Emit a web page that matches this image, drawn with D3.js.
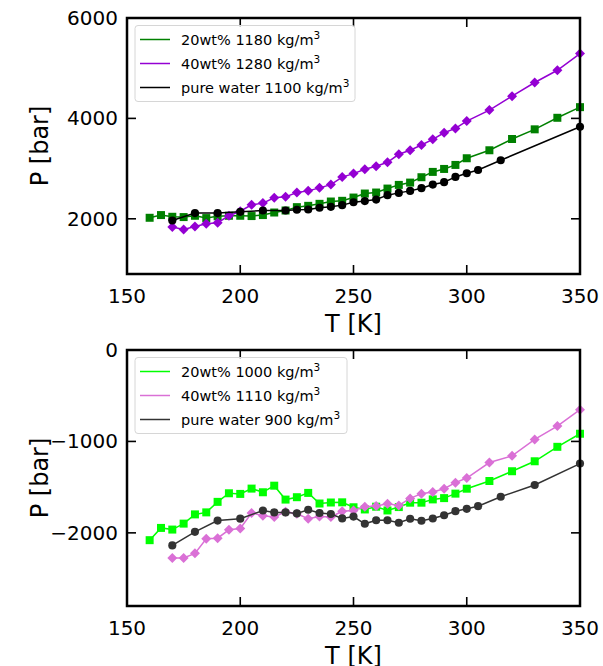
<!DOCTYPE html>
<html lang="en">
<head>
  <meta charset="utf-8">
  <title>P vs T</title>
  <script src="https://d3js.org/d3.v7.min.js"></script>
  <style>
    body { margin: 0; background: #fff; }
    svg { font-family: "DejaVu Sans", sans-serif; }
  </style>
</head>
<body>

<svg width="603" height="666"></svg>

<script>
  // ---- data ----
  const xTicks = [150, 200, 250, 300, 350];

  // top panel
  const topYTicks = [2000, 4000, 6000];
  const T20top = [160,165,170,175,180,185,190,195,200,205,210,215,220,225,230,235,240,245,250,255,260,265,270,275,280,285,290,295,300,310,320,330,340,350];
  const P20top = [2020,2074,2040,2034,2060,2014,2050,2060,2060,2054,2074,2125,2165,2232,2258,2298,2344,2358,2423,2503,2523,2602,2675,2721,2828,2934,2993,3073,3206,3365,3589,3782,4012,4224];
  const T40top = [170,175,180,185,190,195,200,205,210,215,220,225,230,235,240,245,250,255,260,265,270,275,280,285,290,295,300,310,320,330,340,350];
  const P40top = [1835,1788,1847,1901,1921,2060,2150,2278,2312,2417,2437,2523,2556,2616,2681,2830,2900,2987,3047,3126,3285,3365,3470,3583,3714,3801,3946,4165,4443,4715,4959,5291];
  const TWtop = [170,180,190,200,210,220,225,230,235,240,245,250,255,260,265,270,275,280,285,290,295,300,305,315,350];
  const PWtop = [1966,2113,2113,2139,2165,2165,2179,2185,2219,2238,2272,2330,2352,2383,2471,2516,2556,2610,2681,2729,2834,2908,2973,3166,3833];

  // bottom panel
  const botYTicks = [-2000, -1000, 0];
  const T20bot = [160,165,170,175,180,185,190,195,200,205,210,215,220,225,230,235,240,245,250,255,260,265,270,275,280,285,290,295,300,310,320,330,340,350];
  const P20bot = [-2080,-1946,-1964,-1899,-1798,-1776,-1661,-1567,-1574,-1516,-1556,-1484,-1636,-1610,-1563,-1679,-1668,-1666,-1720,-1744,-1714,-1755,-1718,-1670,-1670,-1634,-1620,-1571,-1517,-1433,-1326,-1217,-1059,-916];
  const T40bot = [170,175,180,185,190,195,200,205,210,215,220,225,230,235,240,245,250,255,260,265,270,275,280,285,290,295,300,310,320,330,340,350];
  const P40bot = [-2275,-2275,-2224,-2065,-2058,-1967,-1953,-1783,-1812,-1827,-1769,-1791,-1845,-1820,-1827,-1764,-1755,-1714,-1707,-1681,-1700,-1623,-1571,-1554,-1517,-1451,-1400,-1231,-1158,-978,-832,-653];
  const TWbot = [170,180,190,200,210,215,220,225,230,235,240,245,250,255,260,265,270,275,280,285,290,295,300,305,315,330,350];
  const PWbot = [-2137,-1989,-1866,-1845,-1755,-1776,-1776,-1787,-1747,-1783,-1794,-1842,-1822,-1901,-1862,-1862,-1890,-1846,-1868,-1843,-1807,-1763,-1737,-1708,-1605,-1477,-1242];

  const svg = d3.select("svg");
  const left = 127, right = 580;
  const fmt = d => d < 0 ? "\u2212" + Math.abs(d) : String(d);

  function zip(T, P) { return T.map((t, i) => [t, P[i]]); }

  function panel(top, bottom, yDomain, yTicks, series) {
    const x = d3.scaleLinear().domain([150, 350]).range([left, right]);
    const y = d3.scaleLinear().domain(yDomain).range([bottom, top]);
    const g = svg.append("g");

    // series
    const line = d3.line().x(d => x(d[0])).y(d => y(d[1]));
    series.forEach(s => {
      const data = zip(s.T, s.P);
      g.append("path").datum(data)
        .attr("d", line).attr("fill", "none")
        .attr("stroke", s.color).attr("stroke-width", 1.5);
      const sym = d3.symbol().type(s.marker === "circle" ? d3.symbolCircle : d3.symbolSquare)
        .size(s.marker === "circle" ? 52 : s.marker === "square" ? 64 : 50);
      g.selectAll(null).data(data).enter().append("path")
        .attr("d", sym)
        .attr("transform", d => `translate(${x(d[0])},${y(d[1])})` + (s.marker === "diamond" ? " rotate(45)" : ""))
        .attr("fill", s.color);
    });

    // ticks (inward, all four sides)
    const tk = 9;
    xTicks.forEach(t => {
      g.append("line").attr("x1", x(t)).attr("x2", x(t)).attr("y1", bottom).attr("y2", bottom - tk)
        .attr("stroke", "#000").attr("stroke-width", 1.6);
      g.append("line").attr("x1", x(t)).attr("x2", x(t)).attr("y1", top).attr("y2", top + tk)
        .attr("stroke", "#000").attr("stroke-width", 1.6);
      g.append("text").attr("x", x(t)).attr("y", bottom + 29)
        .attr("text-anchor", "middle").attr("font-size", 20).text(t);
    });
    yTicks.forEach(t => {
      g.append("line").attr("x1", left).attr("x2", left + tk).attr("y1", y(t)).attr("y2", y(t))
        .attr("stroke", "#000").attr("stroke-width", 1.6);
      g.append("line").attr("x1", right).attr("x2", right - tk).attr("y1", y(t)).attr("y2", y(t))
        .attr("stroke", "#000").attr("stroke-width", 1.6);
      g.append("text").attr("x", left - 9).attr("y", y(t) + 7)
        .attr("text-anchor", "end").attr("font-size", 20).text(fmt(t));
    });

    // frame
    g.append("rect").attr("x", left).attr("y", top)
      .attr("width", right - left).attr("height", bottom - top)
      .attr("fill", "none").attr("stroke", "#000").attr("stroke-width", 2.5);

    // axis labels
    g.append("text").attr("x", (left + right) / 2).attr("y", bottom + 58)
      .attr("text-anchor", "middle").attr("font-size", 24).text("T [K]");
    g.append("text").attr("transform", `translate(48,${(top + bottom) / 2}) rotate(-90)`)
      .attr("text-anchor", "middle").attr("font-size", 24).text("P [bar]");

    // legend
    const lx = 135, ly = top + 7.5, lw = series.legendW, lh = 76;
    g.append("rect").attr("x", lx).attr("y", ly).attr("width", lw).attr("height", lh)
      .attr("rx", 3).attr("fill", "#fff").attr("fill-opacity", 0.8)
      .attr("stroke", "#d6d6d6").attr("stroke-width", 1);
    series.forEach((s, i) => {
      const cy = ly + 14 + i * 24;
      g.append("line").attr("x1", lx + 5).attr("x2", lx + 35).attr("y1", cy).attr("y2", cy)
        .attr("stroke", s.color).attr("stroke-width", 1.5);
      const txt = g.append("text").attr("x", lx + 46).attr("y", cy + 5).attr("font-size", 14.5);
      txt.append("tspan").text(s.label + " kg/m");
      txt.append("tspan").attr("dy", -6).attr("font-size", 10.5).text("3");
    });
  }

  const topSeries = [
    { T: T20top, P: P20top, color: "#008000", marker: "square", label: "20wt% 1180" },
    { T: T40top, P: P40top, color: "#9400d3", marker: "diamond", label: "40wt% 1280" },
    { T: TWtop, P: PWtop, color: "#000000", marker: "circle", label: "pure water 1100" }
  ];
  topSeries.legendW = 220;
  panel(18, 274, [900, 6000], topYTicks, topSeries);

  const botSeries = [
    { T: T20bot, P: P20bot, color: "#00ff00", marker: "square", label: "20wt% 1000" },
    { T: T40bot, P: P40bot, color: "#da70d6", marker: "diamond", label: "40wt% 1110" },
    { T: TWbot, P: PWbot, color: "#333333", marker: "circle", label: "pure water 900" }
  ];
  botSeries.legendW = 212;
  panel(350, 606, [-2800, 0], botYTicks, botSeries);
</script>
</body>
</html>
